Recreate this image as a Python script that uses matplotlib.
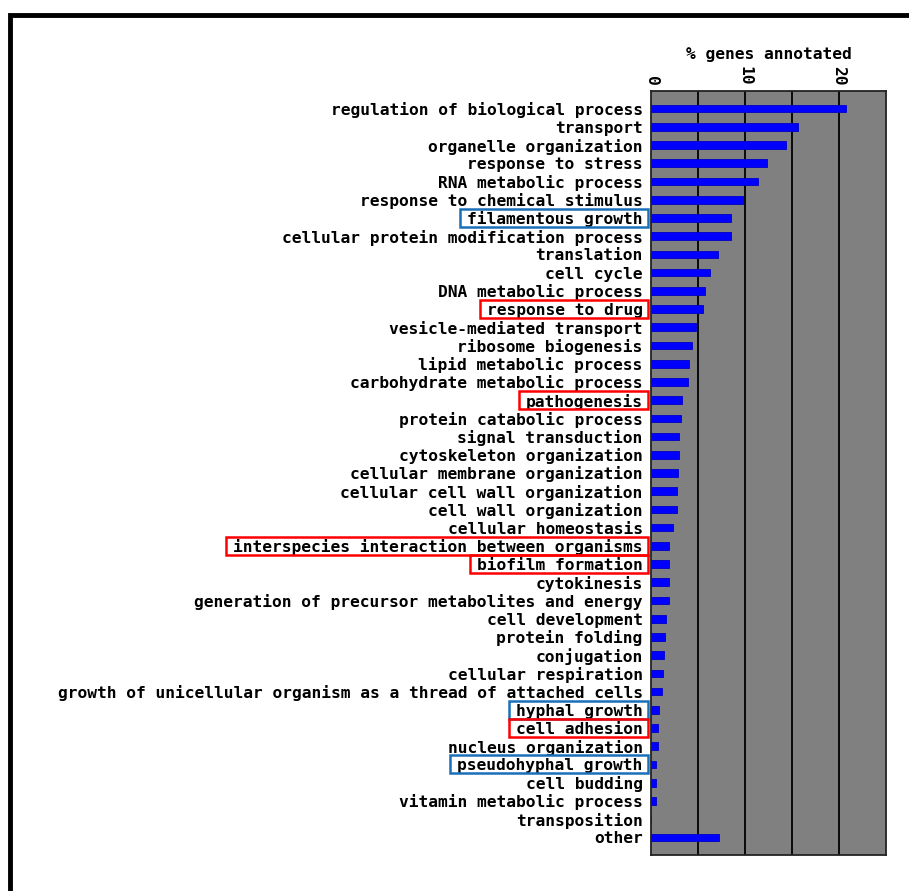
import matplotlib.pyplot as plt
from matplotlib.patches import Rectangle

categories = [
    "regulation of biological process", "transport", "organelle organization",
    "response to stress", "RNA metabolic process", "response to chemical stimulus",
    "filamentous growth", "cellular protein modification process", "translation",
    "cell cycle", "DNA metabolic process", "response to drug",
    "vesicle-mediated transport", "ribosome biogenesis", "lipid metabolic process",
    "carbohydrate metabolic process", "pathogenesis", "protein catabolic process",
    "signal transduction", "cytoskeleton organization",
    "cellular membrane organization", "cellular cell wall organization",
    "cell wall organization", "cellular homeostasis",
    "interspecies interaction between organisms", "biofilm formation",
    "cytokinesis", "generation of precursor metabolites and energy",
    "cell development", "protein folding", "conjugation", "cellular respiration",
    "growth of unicellular organism as a thread of attached cells",
    "hyphal growth", "cell adhesion", "nucleus organization",
    "pseudohyphal growth", "cell budding", "vitamin metabolic process",
    "transposition", "other",
]
percent = [20.7, 15.6, 14.4, 12.3, 11.4, 9.8, 8.5, 8.5, 7.1, 6.3, 5.7, 5.5,
           4.8, 4.4, 4.0, 3.9, 3.3, 3.2, 3.0, 3.0, 2.9, 2.8, 2.8, 2.3,
           1.9, 1.9, 1.9, 1.9, 1.6, 1.5, 1.4, 1.3, 1.2, 0.9, 0.7, 0.7,
           0.5, 0.5, 0.5, 0.05, 7.2]
red_boxes = ["response to drug", "pathogenesis",
             "interspecies interaction between organisms", "biofilm formation",
             "cell adhesion"]
blue_boxes = ["filamentous growth", "hyphal growth", "pseudohyphal growth"]

font = dict(family="DejaVu Sans Mono", weight="bold", size=11.7)

W, H = 909, 891
fig = plt.figure(figsize=(W / 100, H / 100), dpi=100)
ax = fig.add_axes([651 / W, 1 - 855 / H, (886 - 651) / W, (855 - 91) / H])

n = len(categories)
ypos = list(range(n))
ax.barh(ypos, percent, height=0.42, color="#0000ff", edgecolor="#0000c8", linewidth=0.6)

ax.set_facecolor("#808080")
ax.set_xlim(0, 25)
ax.set_ylim(n - 1 + 0.97, -0.97)
for gx in [5, 10, 15, 20]:
    ax.axvline(gx, color="black", linewidth=1.3, zorder=0.5)
for s in ax.spines.values():
    s.set_color("#222222")
    s.set_linewidth(1.3)

ax.xaxis.tick_top()
ax.xaxis.set_label_position("top")
ax.set_xticks([0, 10, 20])
ax.set_xticklabels(["0", "10", "20"], rotation=-90, fontdict=font)
ax.tick_params(axis="x", length=0, pad=4)
ax.set_xlabel("% genes annotated", fontdict=font, labelpad=5)

ax.set_yticks(ypos)
ax.set_yticklabels(categories, fontdict=font)
ax.tick_params(axis="y", length=0, pad=6)

# outer frame (runs off right and bottom edges)
fig.add_artist(Rectangle((10 / W, -0.1), 1.2, 1.1 - 15 / H, fill=False,
                         ec="black", lw=3.5, transform=fig.transFigure,
                         clip_on=False))

# boxes around highlighted labels
fig.canvas.draw()
r = fig.canvas.get_renderer()
for lab in ax.get_yticklabels():
    t = lab.get_text()
    if t in red_boxes:
        col = "#ff0000"
    elif t in blue_boxes:
        col = "#1a70b8"
    else:
        continue
    bb = lab.get_window_extent(r)
    yc = ax.transData.transform((0, categories.index(t)))[1]
    x0 = bb.x0 - 7
    x1 = 648
    fig.add_artist(Rectangle((x0 / W, (yc - 9) / H), (x1 - x0) / W, 18 / H,
                             fill=False, ec=col, lw=1.8, transform=fig.transFigure))

fig.savefig("out.png", dpi=100)
